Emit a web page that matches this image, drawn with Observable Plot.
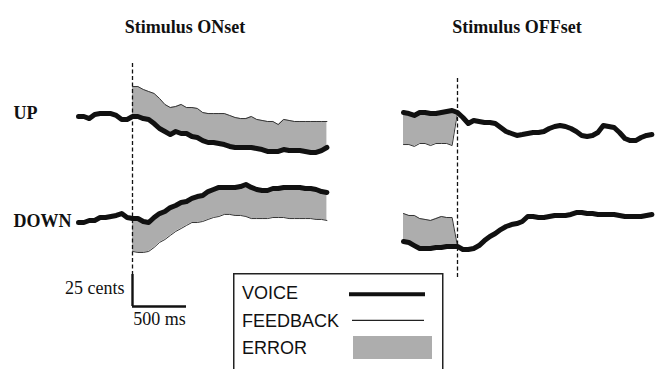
<!DOCTYPE html>
<html><head><meta charset="utf-8">
<script src="https://cdn.jsdelivr.net/npm/d3@7"></script>
<script src="https://cdn.jsdelivr.net/npm/@observablehq/plot@0.6"></script>
<style>
html,body{margin:0;padding:0;background:#fff;overflow:hidden}
#wrap{position:relative;width:655px;height:369px;overflow:hidden;background:#fff}
</style></head><body><div id="wrap"></div>
<script>
// ---------- data ----------
const panels = ["Stimulus ONset", "Stimulus OFFset"];
const conditions = ["UP", "DOWN"];
const legendLabels = ["VOICE", "FEEDBACK", "ERROR"];
const scaleBarMs = 500;
const scaleBarCents = 25;
const scaleBarLabels = ["25 cents", "500 ms"];

// time (ms) relative to stimulus onset / offset
const onsetTimes = [-500,-450,-400,-350,-300,-250,-200,-150,-100,-50,0,50,100,150,200,250,300,350,400,450,500,550,600,650,700,750,800,850,900,950,1000,1050,1100,1150,1200,1250,1300,1350,1400,1450,1500,1550,1600,1650,1700,1750,1800];
const onsetFeedbackTimes = [0,50,100,150,200,250,300,350,400,450,500,550,600,650,700,750,800,850,900,950,1000,1050,1100,1150,1200,1250,1300,1350,1400,1450,1500,1550,1600,1650,1700,1750,1800];
const offsetTimes = [-500,-450,-400,-350,-300,-250,-200,-150,-100,-50,0,50,100,150,200,250,300,350,400,450,500,550,600,650,700,750,800,850,900,950,1000,1050,1100,1150,1200,1250,1300,1350,1400,1450,1500,1550,1600,1650,1700,1750,1800];
const offsetFeedbackTimes = [-500,-450,-400,-350,-300,-250,-200,-150,-100,-50,0];

// pitch (cents)
const upOnsetVoice = [0,0,-1.6,1.6,2.3,2.3,2.3,0.8,-2.3,-2.3, 0,0,-1.6,-2.3,-5.5,-9.4,-11.7,-14.1,-11.7,-13.3, -13.3,-15.6,-16.4,-18.8,-20.3,-20.3,-21.1,-21.9,-23.4,-24.2, -24.2,-24.2,-24.2,-25,-25.8,-27.3,-27.3,-27.3,-25.8,-26.6, -26.6,-26.6,-27.3,-28.1,-28.1,-26.6,-24.2];
const upOnsetFeedback = [23.4,23.4,21.1,19.5,18,14.1,9.4,7,7.8,9.4, 7,7,6.3,3.1,2.3,2.3,2.3,2.3,0.8,-0.8, -1.6,-1.6,0,-2.3,-3.1,-3.9,-3.9,-6.3,-2.3,-3.1, -3.9,-3.9,-3.9,-3.9,-3.9,-3.9,-3.9];
const downOnsetVoice = [-4.7,-4.7,-3.1,-3.1,-0.8,-0.8,0,0.8,2.3,-0.8, -1.6,-1.6,-3.9,-4.7,-0.8,2.3,3.9,7,8.6,10.9, 11.7,14.1,15.6,16.4,19.5,21.1,22.7,22.7,22.7,22.7, 23.4,25,22.7,21.1,20.3,20.3,21.9,21.9,22.7,22.7, 22.7,22.7,21.9,21.9,21.1,19.5,18.8];
const downOnsetFeedback = [-27.3,-28.1,-28.1,-27.3,-24.2,-20.3,-18,-14.8,-11.7,-9.4, -7,-4.7,-4.7,-3.9,-2.3,-0.8,0,1.6,1.6,0.8, 0.8,0,-1.6,-1.6,-1.6,-1.6,-0.8,-0.8,-0.8,-1.6, -1.6,-1.6,-1.6,-1.6,-2.3,-2.3,-3.1];
const upOffsetVoice = [3.1,2.3,0.8,3.1,3.1,2.3,2.3,3.1,3.9,4.7, 3.1,-0.8,-5.5,-3.1,-3.9,-4.7,-4.7,-5.5,-8.6,-11.7, -13.3,-14.8,-14.1,-13.3,-12.5,-12.5,-11.7,-9.4,-7.8,-7, -7.8,-9.4,-11.7,-14.8,-15.6,-14.8,-12.5,-7,-7.8,-8.6, -12.5,-17.2,-18.8,-18.8,-16.4,-14.8,-14.1];
const upOffsetFeedback = [-21.9,-21.9,-23.4,-21.1,-21.1,-22.7,-21.1,-21.1,-21.1,-22.7,3.1];
const downOffsetVoice = [-19.5,-20.3,-22.7,-25,-25,-25,-24.2,-24.2,-23.4,-23.4, -23.4,-25.8,-25.8,-25,-22.7,-18.8,-15.6,-13.3,-10.2,-7.8, -6.3,-5.5,-3.9,0,0,-0.8,-0.8,0,0.8,0.8, 0.8,1.6,3.1,3.1,2.3,2.3,1.6,1.6,1.6,1.6, 0.8,0,0,0,0,0.8,1.6];
const downOffsetFeedback = [2.3,0.8,0.8,-1.6,-2.3,-3.1,-1.6,0,-0.8,-0.8,-23.4];

// ---------- layout ----------
const W = 655, H = 369;
const PX_PER_MS = 0.108, PX_PER_CENT = 1.28;
const ORIGIN_X = 132, ORIGIN_Y = 116;           // onset line / UP baseline (px)
const xAt = px => (px - ORIGIN_X) / PX_PER_MS;
const yAt = py => (ORIGIN_Y - py) / PX_PER_CENT;
const panelShift = {[panels[0]]: 0, [panels[1]]: 325 / PX_PER_MS};
const rowShift = {UP: 0, DOWN: -100 / PX_PER_CENT};

const series = [
  {panel: panels[0], cond: "UP",   times: onsetTimes,  voice: upOnsetVoice,    fbTimes: onsetFeedbackTimes,  feedback: upOnsetFeedback},
  {panel: panels[0], cond: "DOWN", times: onsetTimes,  voice: downOnsetVoice,  fbTimes: onsetFeedbackTimes,  feedback: downOnsetFeedback},
  {panel: panels[1], cond: "UP",   times: offsetTimes, voice: upOffsetVoice,   fbTimes: offsetFeedbackTimes, feedback: upOffsetFeedback},
  {panel: panels[1], cond: "DOWN", times: offsetTimes, voice: downOffsetVoice, fbTimes: offsetFeedbackTimes, feedback: downOffsetFeedback}
];

const voiceRows = [], fbRows = [], errRows = [];
for (const s of series) {
  const key = s.panel + "|" + s.cond;
  const xs = panelShift[s.panel], ys = rowShift[s.cond];
  const vmap = new Map(s.times.map((t, i) => [t, s.voice[i]]));
  s.times.forEach((t, i) => voiceRows.push({key, x: t + xs, y: s.voice[i] + ys}));
  s.fbTimes.forEach((t, i) => {
    fbRows.push({key, x: t + xs, y: s.feedback[i] + ys});
    errRows.push({key, x: t + xs, y1: vmap.get(t) + ys, y2: s.feedback[i] + ys});
  });
}

const dashRows = [
  {x: panelShift[panels[0]], y1: yAt(63), y2: yAt(274)},
  {x: panelShift[panels[1]], y1: yAt(78), y2: yAt(278)}
];
const barBase = yAt(306);
const titleRows = panels.map((p, i) => ({label: p, x: xAt([184.5, 516.5][i]), y: yAt(32)}));
const rowLabelRows = conditions.map(c => ({label: c, x: xAt(13), y: yAt({UP: 118, DOWN: 226}[c])}));

const serif = "'Liberation Serif', 'Times New Roman', serif";

const chart = Plot.plot({
  width: W, height: H,
  marginTop: 0, marginRight: 0, marginBottom: 0, marginLeft: 0,
  x: {domain: [xAt(0), xAt(W)], axis: null},
  y: {domain: [yAt(H), yAt(0)], axis: null},
  style: {background: "white", color: "#111"},
  marks: [
    Plot.areaY(errRows, {x: "x", y1: "y1", y2: "y2", z: "key", fill: "#adadad"}),
    Plot.ruleX(dashRows, {x: "x", y1: "y1", y2: "y2", stroke: "#111", strokeWidth: 1.3, strokeDasharray: "4,2.5"}),
    Plot.line(fbRows, {x: "x", y: "y", z: "key", stroke: "#333", strokeWidth: 1}),
    Plot.line(voiceRows, {x: "x", y: "y", z: "key", stroke: "#111", strokeWidth: 5}),
    // scale bar
    Plot.ruleX([0], {x: d => d, y1: barBase, y2: barBase + scaleBarCents, stroke: "#111", strokeWidth: 2.4}),
    Plot.ruleY([barBase], {y: d => d, x1: 0, x2: scaleBarMs, stroke: "#111", strokeWidth: 2.4}),
    Plot.text([scaleBarLabels[0]], {x: 0, y: barBase + scaleBarCents / 2, dx: -8, dy: -2, text: d => d, textAnchor: "end", lineAnchor: "middle", fontFamily: serif, fontSize: 18}),
    Plot.text([scaleBarLabels[1]], {x: scaleBarMs / 2, y: barBase, dy: 6, text: d => d, textAnchor: "middle", lineAnchor: "top", fontFamily: serif, fontSize: 18}),
    // titles and row labels
    Plot.text(titleRows, {x: "x", y: "y", text: "label", textAnchor: "middle", lineAnchor: "bottom", fontFamily: serif, fontWeight: "bold", fontSize: 18}),
    Plot.text(rowLabelRows, {x: "x", y: "y", text: "label", textAnchor: "start", lineAnchor: "bottom", fontFamily: serif, fontWeight: "bold", fontSize: 18})
  ]
});
document.getElementById("wrap").appendChild(chart);

// ---------- legend box ----------
const leg = d3.select("#wrap").append("svg")
  .attr("width", 212).attr("height", 96)
  .style("position", "absolute").style("left", "233px").style("top", "273px");
leg.append("rect").attr("x", 0.75).attr("y", 0.75).attr("width", 209).attr("height", 140)
  .attr("fill", "white").attr("stroke", "#222").attr("stroke-width", 1.5);
const legY = [26, 53.7, 81];
legendLabels.forEach((lab, i) => {
  leg.append("text").attr("x", 9).attr("y", legY[i]).text(lab)
    .attr("font-family", "'Liberation Sans', Arial, sans-serif").attr("font-size", 18).attr("fill", "#111");
});
leg.append("line").attr("x1", 116).attr("x2", 192).attr("y1", 21.3).attr("y2", 21.3).attr("stroke", "#111").attr("stroke-width", 4);
leg.append("line").attr("x1", 119).attr("x2", 191).attr("y1", 47.3).attr("y2", 47.3).attr("stroke", "#222").attr("stroke-width", 1.2);
leg.append("rect").attr("x", 120).attr("y", 63).attr("width", 79).attr("height", 23).attr("fill", "#adadad");
</script></body></html>
